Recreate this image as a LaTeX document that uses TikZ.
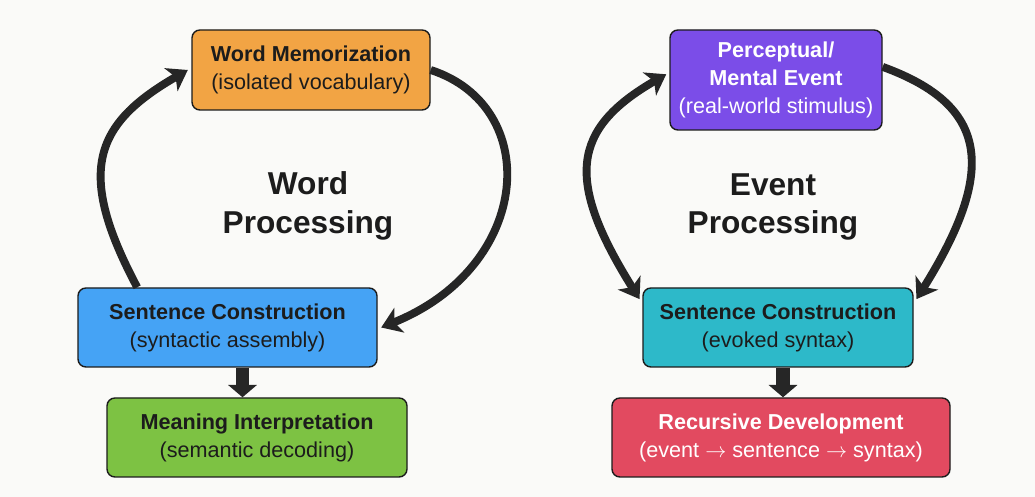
\documentclass[tikz,border=0pt]{standalone}
\usepackage{fontspec}
\setmainfont{Liberation Sans}
\usetikzlibrary{arrows.meta}
\definecolor{pagebg}{HTML}{FAFAF8}
\definecolor{inkdark}{HTML}{1C1C1C}
\definecolor{arrowdark}{HTML}{262626}
\definecolor{wmfill}{HTML}{F2A444}
\definecolor{scfill}{HTML}{45A3F5}
\definecolor{mifill}{HTML}{7DC243}
\definecolor{pefill}{HTML}{7B4DE8}
\definecolor{evfill}{HTML}{2DB9C9}
\definecolor{rdfill}{HTML}{E24A60}

\begin{document}
\begin{tikzpicture}[
        box/.style={draw=inkdark, line width=0.8pt, rounded corners=4.5pt, align=center,
            font=\fontsize{12.3}{16}\selectfont, text=inkdark},
        title/.style={align=center, font=\fontsize{18}{22}\selectfont\bfseries, text=inkdark},
        loop/.style={draw=arrowdark, line width=4.5pt, -{Stealth[length=11pt,width=15pt,inset=3pt]}},
        loopboth/.style={draw=arrowdark, line width=4.5pt,
            {Stealth[length=11pt,width=15pt,inset=3pt]}-{Stealth[length=11pt,width=15pt,inset=3pt]}},
        down/.style={draw=arrowdark, line width=7.5pt, -{Triangle[length=7pt,width=16pt]}}
    ]
            \fill[pagebg] (0, 0) rectangle (20.7, 9.94);
            \useasboundingbox (0, 0) rectangle (20.7, 9.94);

            \node[box, fill=wmfill, minimum width=4.76cm, minimum height=1.6cm] (wm) at (6.22, 8.54)
                {\textbf{Word Memorization}\\(isolated vocabulary)};
            \node[box, fill=scfill, minimum width=5.98cm, minimum height=1.58cm] (scw) at (4.55, 3.39)
                {\textbf{Sentence Construction}\\(syntactic assembly)};
            \node[box, fill=mifill, minimum width=6cm, minimum height=1.58cm] (mi) at (5.14, 1.19)
                {\textbf{Meaning Interpretation}\\(semantic decoding)};
            \node[title] (wtitle) at (6.16, 5.82) {Word\\Processing};

            \draw[loop] (scw.156) to[out=118, in=210, out looseness=1.5, in looseness=1.25] ([xshift=-2pt]wm.west);
            \draw[loop] (wm.east) to[out=-18, in=22, out looseness=1.15, in looseness=1.6] ([xshift=2pt]scw.east);
            \draw[down] ([xshift=3mm]scw.south) -- ([xshift=3mm]scw.south |- mi.north);

            \node[box, fill=pefill, text=white, minimum width=4.24cm, minimum height=2cm] (pe) at (15.52, 8.34)
                {\textbf{Perceptual/}\\\textbf{Mental Event}\\(real-world stimulus)};
            \node[box, fill=evfill, minimum width=5.4cm, minimum height=1.58cm] (sce) at (15.56, 3.39)
                {\textbf{Sentence Construction}\\(evoked syntax)};
            \node[box, fill=rdfill, text=white, minimum width=6.76cm, minimum height=1.58cm] (rd) at (15.62, 1.19)
                {\textbf{Recursive Development}\\(event $\rightarrow$ sentence $\rightarrow$ syntax)};
            \node[title] (etitle) at (15.46, 5.8) {Event\\Processing};

            \draw[loopboth, shorten <=2pt, shorten >=3pt] (pe.176) to[out=210, in=122, out looseness=1.25, in looseness=1.6] (sce.170);
            \draw[loop, shorten >=3pt] (pe.7) to[out=-20, in=58, out looseness=1.2, in looseness=1.7] (sce.10);
            \draw[down] ([xshift=1mm]sce.south) -- ([xshift=1mm]sce.south |- rd.north);
\end{tikzpicture}
\end{document}
